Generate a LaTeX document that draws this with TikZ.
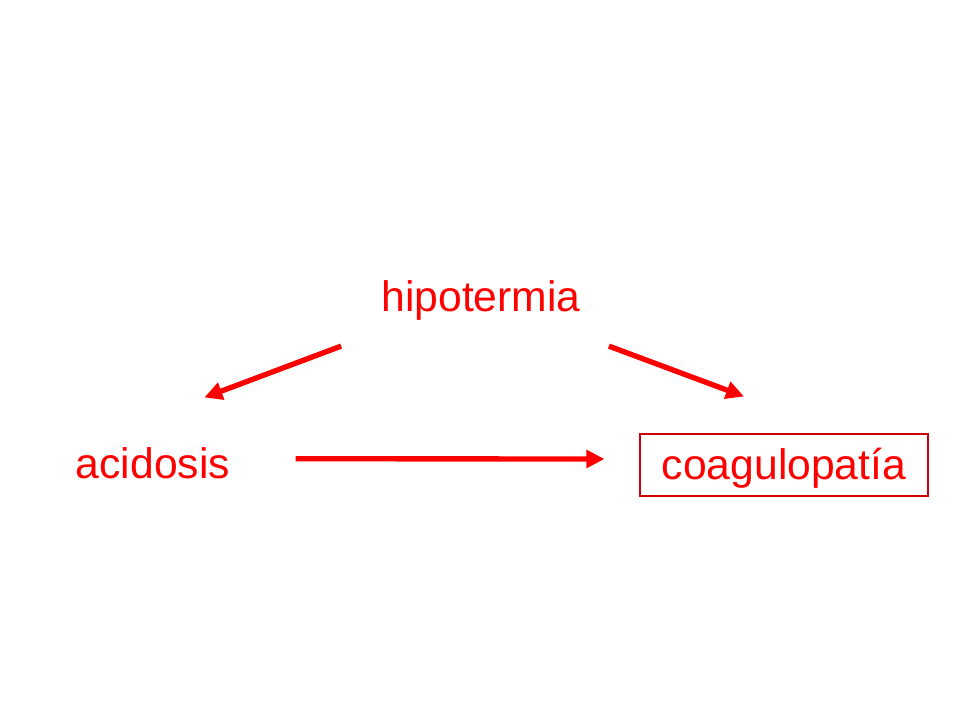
\documentclass[tikz,border=0pt]{standalone}
\usepackage{fontspec}
\setmainfont{Liberation Sans}
\usetikzlibrary{arrows.meta}
\definecolor{rojo}{RGB}{255,0,0}
\definecolor{borde}{RGB}{204,0,0}

\begin{document}
\begin{tikzpicture}[x=0.75pt,y=-0.75pt,
    texto/.style={text=rojo,inner sep=0pt,anchor=base,font=\fontsize{32}{38}\selectfont},
    flecha/.style={draw=rojo,line width=4pt,-{Triangle[length=13.5pt,width=13pt]}}]
  \useasboundingbox (0,0) rectangle (960,720);

  \node[texto] (hipo) at (481,311) {hipotermia};
  \node[texto] (acid) at (153,478) {acidosis};
  \node[texto,draw=borde,line width=0.8pt,minimum width=216pt,minimum height=46.5pt,
        text height=24pt,text depth=3pt] (coag) at (784,479) {coagulopatía};

  \draw[flecha] ([xshift=-30pt,yshift=-19.5pt]hipo.south west) -- ([xshift=-19.5pt,yshift=37pt]acid.north east);
  \draw[flecha] ([xshift=21pt,yshift=-19.5pt]hipo.south east) -- ([xshift=-30pt,yshift=27.75pt]coag.north);
  \draw[flecha] ([xshift=49pt,yshift=3pt]acid.east) -- ([xshift=-26.25pt,yshift=4.5pt]coag.west);
\end{tikzpicture}
\end{document}
